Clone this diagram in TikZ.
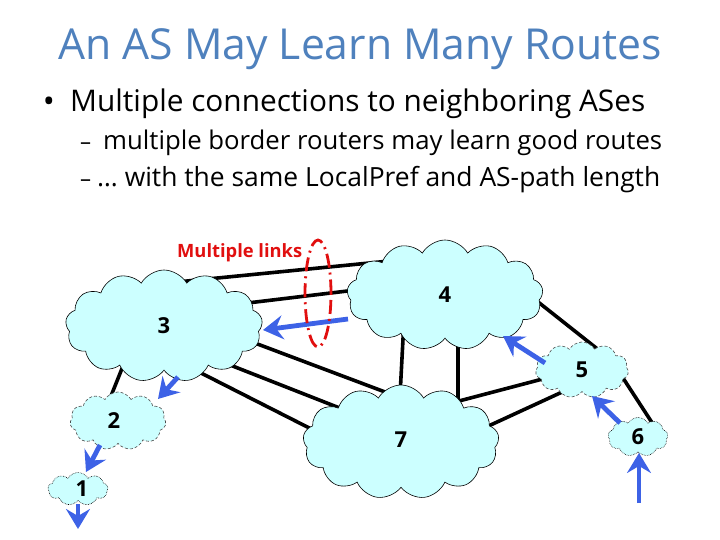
\documentclass[tikz,border=0pt]{standalone}
\usepackage{fontspec}
\setmainfont{Open Sans}
\usetikzlibrary{shapes.symbols,arrows.meta}
\pgfdeclarelayer{bg}
\pgfsetlayers{bg,main}
\definecolor{titleblue}{RGB}{79,129,189}
\definecolor{cloudfill}{RGB}{204,255,255}
\definecolor{arrowblue}{RGB}{61,98,230}
\definecolor{linkred}{RGB}{225,15,15}
\newcommand\fitw[2]{\resizebox{#1}{!}{#2}}
\begin{document}
\begin{tikzpicture}[x=1pt,y=-1pt,
  cloudbox/.style={cloud, cloud puff arc=120, cloud ignores aspect, draw=black,
    line width=0.6pt, fill=cloudfill, inner sep=0pt,
    font=\fontsize{22}{22}\selectfont\bfseries},
  dashcloud/.style={cloudbox, draw=black!70, densely dashed},
  dotcloud/.style={cloudbox, densely dotted},
  netlink/.style={line width=3.6pt, black},
  adv/.style={line width=4.8pt, arrowblue,
    -{Stealth[length=20pt,width=24pt,inset=7pt]}},
  txt/.style={anchor=base west, inner sep=0pt}]
\useasboundingbox (0,0) rectangle (720,540);

% texts
\node[txt, text=titleblue] (title) at (58,60)
  {\fitw{604pt}{\fontsize{38}{38}\selectfont An AS May Learn Many Routes}};
\node[anchor=base, inner sep=0pt] (bul) at (49,113) {\fontsize{32}{32}\selectfont •};
\node[txt] (l1) at (70,112)
  {\fitw{575pt}{\fontsize{30}{30}\selectfont Multiple connections to neighboring ASes}};
\node[txt] (d1) at (80,150) {\fontsize{22}{22}\selectfont –};
\node[txt] (l2) at (103,150)
  {\fitw{559pt}{\fontsize{22}{22}\selectfont multiple border routers may learn good routes}};
\node[txt] (d2) at (80,187) {\fontsize{22}{22}\selectfont –};
\node[txt] (l3) at (97,187)
  {\fitw{563pt}{\fontsize{22}{22}\selectfont … with the same LocalPref and AS-path length}};

% clouds
\node[cloudbox, cloud puffs=13, minimum width=197pt, minimum height=112pt] (c3) at (164,326) {3};
\node[cloudbox, cloud puffs=13, minimum width=196pt, minimum height=110pt] (c4) at (445,295) {4};
\node[cloudbox, cloud puffs=13, minimum width=196pt, minimum height=114pt] (c7) at (401,442) {\raisebox{5pt}{7}};
\node[dashcloud, cloud puffs=11, minimum width=93pt, minimum height=56pt] (c5) at (582,370) {5};
\node[dashcloud, cloud puffs=11, minimum width=96pt, minimum height=58pt] (c2) at (118,421) {\hspace*{-8pt}2};
\node[dotcloud, cloud puffs=9, minimum width=60pt, minimum height=33pt] (c1) at (78,489) {\hspace*{8pt}1};
\node[dotcloud, cloud puffs=9, minimum width=60pt, minimum height=39pt] (c6) at (638,437) {6};

% links (behind clouds; their ends are hidden inside the clouds)
\begin{pgfonlayer}{bg}
\draw[netlink] ([shift={(6,-43.3)}]c3.center) -- ([shift={(-25,-37)}]c4.center);
\draw[netlink] ([shift={(56,-19.7)}]c3.center) -- ([shift={(-50,-9.7)}]c4.center);
\draw[netlink] ([shift={(61,5.8)}]c3.center) -- ([shift={(4,-42.5)}]c7.center);
\draw[netlink] ([shift={(36,27.2)}]c3.center) -- ([shift={(-41,-26)}]c7.center);
\draw[netlink] ([shift={(11,33.8)}]c3.center) -- ([shift={(-61,1.6)}]c7.center);
\draw[netlink] ([shift={(-41,25)}]c4.center) -- ([shift={(-2,-27)}]c7.center);
\draw[netlink] ([shift={(13,25)}]c4.center) -- ([shift={(57,-27)}]c7.center);
\draw[netlink] ([shift={(70,-11.3)}]c4.center) -- ([shift={(18,-19)}]c5.center);
\draw[netlink] ([shift={(39,-36)}]c7.center) -- ([shift={(-17,3.1)}]c5.center);
\draw[netlink] ([shift={(64,-5.2)}]c7.center) -- ([shift={(-7,16.1)}]c5.center);
\draw[netlink] ([shift={(28,-12)}]c5.center) -- ([shift={(16,-11.3)}]c6.center);
\draw[netlink] ([shift={(-38.6,34)}]c3.center) -- ([shift={(-10.6,-16)}]c2.center);
\end{pgfonlayer}

% route advertisements
\coordinate (in6) at (639,503);
\coordinate (out1) at (78,529);
\draw[adv] ([shift={(-97,24)}]c4.center) -- ([shift={(99,4)}]c3.center);
\draw[adv] ([shift={(-37,-7)}]c5.center) -- ([shift={(58,41)}]c4.center);
\draw[adv] ([shift={(-18,-14)}]c6.center) -- ([shift={(10,26)}]c5.center);
\draw[adv] (in6) -- ([shift={(1,16)}]c6.center);
\draw[adv] ([shift={(14,51)}]c3.center) -- ([shift={(40,-22)}]c2.center);
\draw[adv] ([shift={(-18,24)}]c2.center) -- ([shift={(8,-17)}]c1.center);
\draw[adv] ([shift={(0,15)}]c1.center) -- (out1);

% multiple links marker
\draw[linkred, line width=2.8pt, dash pattern=on 14pt off 5pt on 2pt off 5pt]
  (318,293.5) ellipse [x radius=13pt, y radius=53.5pt];
\node[txt, text=linkred] (ml) at (177,258)
  {\fitw{125pt}{\fontsize{17}{17}\selectfont\bfseries Multiple links}};
\end{tikzpicture}
\end{document}
